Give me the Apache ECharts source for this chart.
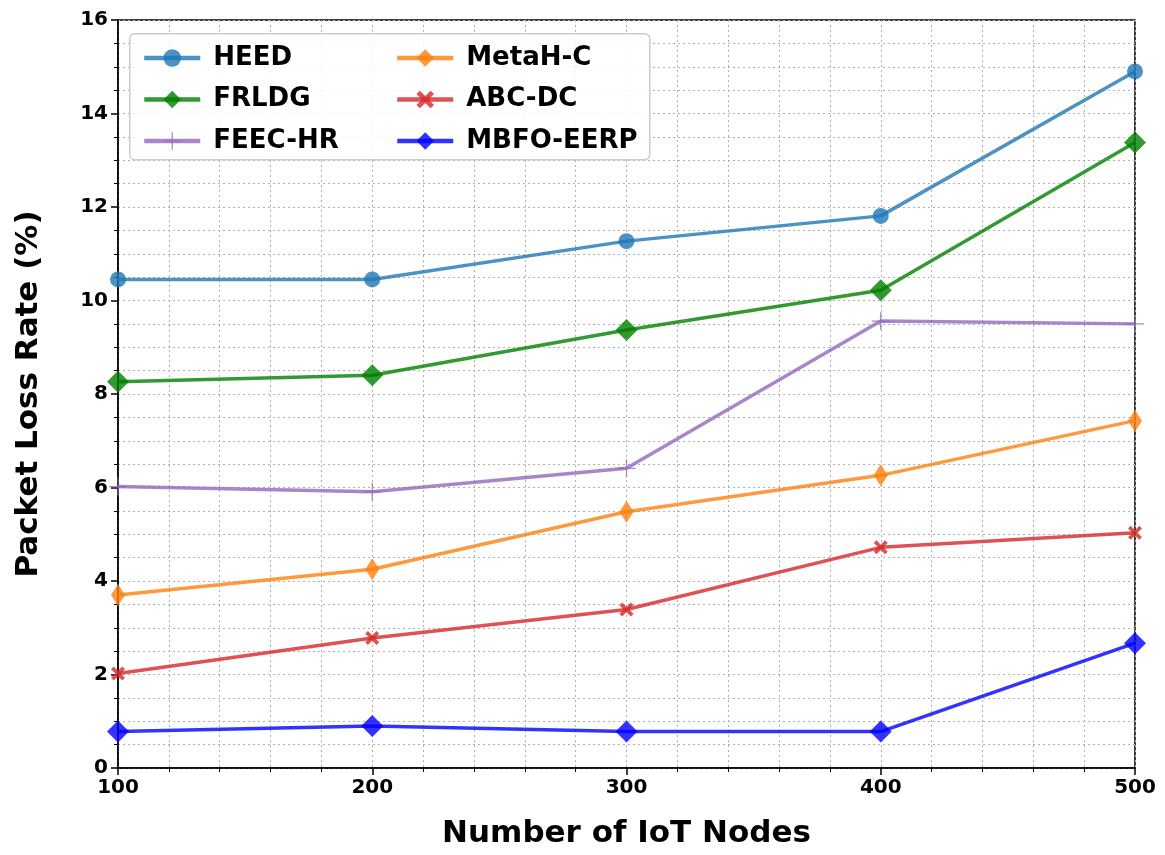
<!DOCTYPE html>
<html>
<head>
<meta charset="utf-8">
<script src="https://cdn.jsdelivr.net/npm/echarts@6/dist/echarts.min.js"></script>
<style>
html,body{margin:0;padding:0;background:#fff;}
#main{width:1165px;height:855px;}
</style>
</head>
<body>
<div id="main"></div>
<script>
const nodes = [100, 200, 300, 400, 500];
const heed = [10.45, 10.45, 11.27, 11.81, 14.90];
const frldg = [8.26, 8.40, 9.37, 10.22, 13.38];
const feecHr = [6.02, 5.91, 6.41, 9.56, 9.50];
const metahC = [3.70, 4.25, 5.48, 6.26, 7.43];
const abcDc = [2.02, 2.78, 3.39, 4.72, 5.03];
const mbfoEerp = [0.78, 0.90, 0.78, 0.78, 2.67];
const yTicks = [0, 2, 4, 6, 8, 10, 12, 14, 16];

const FONT = 'DejaVu Sans';
const PLUS = 'path://M-0.7,-10 L0.7,-10 L0.7,-0.7 L10,-0.7 L10,0.7 L0.7,0.7 L0.7,10 L-0.7,10 L-0.7,0.7 L-10,0.7 L-10,-0.7 L-0.7,-0.7 Z';
const XMARK = 'path://M4,2.5 L6.4,0.1 L7.9,1.6 L5.5,4 L7.9,6.4 L6.4,7.9 L4,5.5 L1.6,7.9 L0.1,6.4 L2.5,4 L0.1,1.6 L1.6,0.1 Z';

function pairs(arr){ return nodes.map((x,i)=>[x, arr[i]]); }

function mk(name, data, color, symbol, size){
  return {
    name: name, type: 'line', data: pairs(data),
    symbol: symbol, symbolSize: size,
    lineStyle: {color: color, width: 3.5, opacity: 0.8},
    itemStyle: {color: color, opacity: 0.8},
    emphasis: {disabled: true},
    clip: true, z: 3
  };
}

const chart = echarts.init(document.getElementById('main'));
const gridLine = {show: true, lineStyle: {color: '#b0b0b0', type: [2, 3], width: 1}};
const legendText = {fontFamily: FONT, fontWeight: 'bold', fontSize: 26, color: '#000', padding: [0, 0, 0, 8]};
const legendCommon = {
  orient: 'vertical', top: 40, z: 60,
  itemWidth: 56, itemHeight: 22, itemGap: 15.5,
  lineStyle: {width: 4.5},
  textStyle: legendText
};
chart.setOption({
  animation: false,
  backgroundColor: '#fff',
  grid: {left: 118, right: 30, top: 20, bottom: 87, show: true, borderColor: '#000', borderWidth: 1.5, containLabel: false},
  graphic: [{
    type: 'rect', left: 129, top: 33, z: 50,
    shape: {width: 520, height: 126, r: 5},
    style: {fill: 'rgba(255,255,255,0.85)', stroke: '#cccccc', lineWidth: 1.5}
  }],
  legend: [
    Object.assign({data: ['HEED', 'FRLDG', 'FEEC-HR'], left: 137}, legendCommon),
    Object.assign({data: ['MetaH-C', 'ABC-DC', 'MBFO-EERP'], left: 390}, legendCommon)
  ],
  xAxis: {
    type: 'value', min: 100, max: 500, interval: 100,
    name: 'Number of IoT Nodes', nameLocation: 'middle', nameGap: 50,
    nameTextStyle: {fontFamily: FONT, fontWeight: 'bold', fontSize: 31, color: '#000'},
    axisLine: {show: true, lineStyle: {color: '#000', width: 1.5}},
    axisTick: {show: true, length: 7, lineStyle: {color: '#000', width: 1.5}},
    minorTick: {show: true, splitNumber: 5, length: 4, lineStyle: {color: '#000', width: 1}},
    axisLabel: {fontFamily: FONT, fontWeight: 'bold', fontSize: 20, color: '#000', margin: 10},
    splitLine: gridLine,
    minorSplitLine: gridLine
  },
  yAxis: {
    type: 'value', min: yTicks[0], max: yTicks[yTicks.length-1], interval: 2,
    name: 'Packet Loss Rate (%)', nameLocation: 'middle', nameGap: 74, nameRotate: 90,
    nameTextStyle: {fontFamily: FONT, fontWeight: 'bold', fontSize: 31, color: '#000'},
    axisLine: {show: true, lineStyle: {color: '#000', width: 1.5}},
    axisTick: {show: true, length: 7, lineStyle: {color: '#000', width: 1.5}},
    minorTick: {show: true, splitNumber: 4, length: 4, lineStyle: {color: '#000', width: 1}},
    axisLabel: {fontFamily: FONT, fontWeight: 'bold', fontSize: 20, color: '#000', margin: 10},
    splitLine: gridLine,
    minorSplitLine: gridLine
  },
  series: [
    mk('HEED', heed, '#1f77b4', 'circle', 16),
    mk('FRLDG', frldg, '#008000', 'diamond', 22),
    mk('FEEC-HR', feecHr, '#9467bd', PLUS, 18),
    mk('MetaH-C', metahC, '#ff7f0e', 'diamond', [14, 22]),
    mk('ABC-DC', abcDc, '#d62728', XMARK, 14),
    mk('MBFO-EERP', mbfoEerp, '#0000ff', 'diamond', 22)
  ]
});
</script>
</body>
</html>
